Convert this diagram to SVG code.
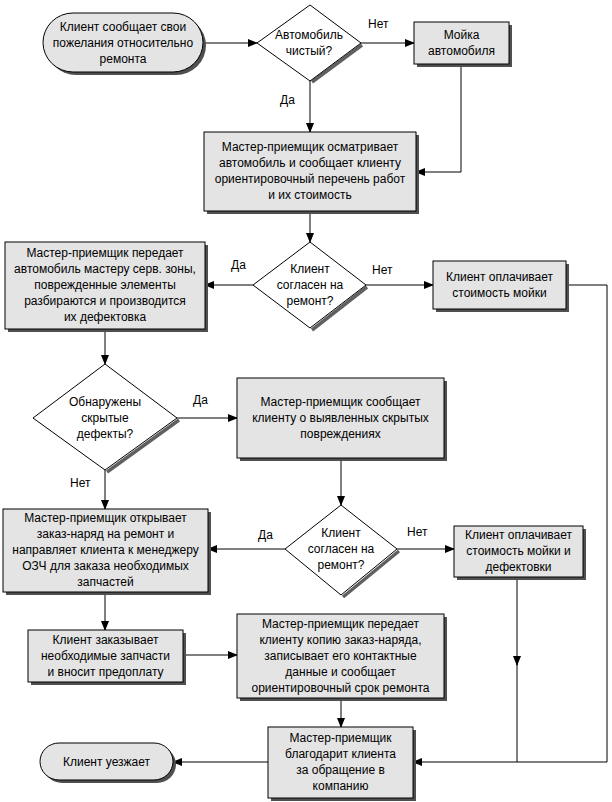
<svg xmlns="http://www.w3.org/2000/svg" width="612" height="802" viewBox="0 0 612 802">
<style>
text{font-family:"Liberation Sans",Arial,sans-serif;font-size:12px;fill:#000}
.t{text-anchor:middle}
.box{fill:#e4e4e4;stroke:#000;stroke-width:1}
.sh{fill:#505050}
.dia{fill:#fff;stroke:#000;stroke-width:1}
.dsh{fill:none;stroke:#606060;stroke-width:3.5}
.c{fill:none;stroke:#000;stroke-width:1}
</style>
<defs>
<marker id="a" markerUnits="userSpaceOnUse" markerWidth="10" markerHeight="10" viewBox="0 0 10 10" refX="9" refY="5" orient="auto">
<path d="M0,1 L10,5 L0,9 Z" fill="#000"/>
</marker>
</defs>
<rect width="612" height="802" fill="#fff"/>
<g id="connectors">
<path class="c" d="M203,43 H257" marker-end="url(#a)"/>
<path class="c" d="M361,43 H414" marker-end="url(#a)"/>
<path class="c" d="M310,81 V132" marker-end="url(#a)"/>
<path class="c" d="M461,64 V172 H416" marker-end="url(#a)"/>
<path class="c" d="M310,211 V242" marker-end="url(#a)"/>
<path class="c" d="M253,285 H205" marker-end="url(#a)"/>
<path class="c" d="M366,285 H433" marker-end="url(#a)"/>
<path class="c" d="M566,285 H607 V762 H413" marker-end="url(#a)"/>
<path class="c" d="M105,329 V364" marker-end="url(#a)"/>
<path class="c" d="M177,418 H237" marker-end="url(#a)"/>
<path class="c" d="M341,458 V505" marker-end="url(#a)"/>
<path class="c" d="M285,549 H208" marker-end="url(#a)"/>
<path class="c" d="M397,549 H454" marker-end="url(#a)"/>
<path class="c" d="M517,577 V665" marker-end="url(#a)"/>
<path class="c" d="M517,664 V762"/>
<path class="c" d="M105,470 V509" marker-end="url(#a)"/>
<path class="c" d="M105,592 V630" marker-end="url(#a)"/>
<path class="c" d="M183,655 H237" marker-end="url(#a)"/>
<path class="c" d="M341,698 V727" marker-end="url(#a)"/>
<path class="c" d="M268,762 H173" marker-end="url(#a)"/>
<text x="368" y="28">Нет</text>
<text x="280" y="104">Да</text>
<text x="231" y="269">Да</text>
<text x="372" y="274">Нет</text>
<text x="193" y="404">Да</text>
<text x="70" y="487">Нет</text>
<text x="258" y="539">Да</text>
<text x="407" y="536">Нет</text>
</g>
<g id="start">
<rect class="sh" x="46" y="16" width="160" height="59" rx="30" ry="29.5"/>
<rect class="box" x="43" y="13" width="160" height="59" rx="30" ry="29.5"/>
<text class="t" x="123" y="31">Клиент сообщает свои<tspan x="123" dy="16">пожелания относительно</tspan><tspan x="123" dy="16">ремонта</tspan></text>
</g>
<g id="d1">
<polyline class="dsh" points="362,45 312,82"/>
<polygon class="dia" points="310,5 361,43 310,81 257,43"/>
<text class="t" x="309" y="39">Автомобиль<tspan x="309" dy="16">чистый?</tspan></text>
</g>
<g id="wash">
<rect class="sh" x="417" y="25" width="95" height="42"/>
<rect class="box" x="414" y="22" width="95" height="42"/>
<text class="t" x="461.5" y="39">Мойка<tspan x="461.5" dy="16">автомобиля</tspan></text>
</g>
<g id="inspect">
<rect class="sh" x="207" y="135" width="212" height="79"/>
<rect class="box" x="204" y="132" width="212" height="79"/>
<text class="t" x="310" y="151">Мастер-приемщик осматривает<tspan x="310" dy="16">автомобиль и сообщает клиенту</tspan><tspan x="310" dy="16">ориентировочный перечень работ</tspan><tspan x="310" dy="16">и их стоимость</tspan></text>
</g>
<g id="d2">
<polyline class="dsh" points="367,287 312,330"/>
<polygon class="dia" points="310,242 366,285 310,328 253,285"/>
<text class="t" x="310" y="273">Клиент<tspan x="310" dy="16">согласен на</tspan><tspan x="310" dy="16">ремонт?</tspan></text>
</g>
<g id="transfer">
<rect class="sh" x="8" y="245" width="200" height="87"/>
<rect class="box" x="5" y="242" width="200" height="87"/>
<text class="t" x="105" y="257">Мастер-приемщик передает<tspan x="105" dy="16">автомобиль мастеру серв. зоны,</tspan><tspan x="105" dy="16">поврежденные элементы</tspan><tspan x="105" dy="16">разбираются и производится</tspan><tspan x="105" dy="16">их дефектовка</tspan></text>
</g>
<g id="pay1">
<rect class="sh" x="436" y="264" width="133" height="48"/>
<rect class="box" x="433" y="261" width="133" height="48"/>
<text class="t" x="499.5" y="281">Клиент оплачивает<tspan x="499.5" dy="16">стоимость мойки</tspan></text>
</g>
<g id="d3">
<polyline class="dsh" points="179,420 107,472"/>
<polygon class="dia" points="105,364 177,418 105,470 33,418"/>
<text class="t" x="105" y="406">Обнаружены<tspan x="105" dy="16">скрытые</tspan><tspan x="105" dy="16">дефекты?</tspan></text>
</g>
<g id="report">
<rect class="sh" x="240" y="381" width="207" height="80"/>
<rect class="box" x="237" y="378" width="207" height="80"/>
<text class="t" x="340.5" y="406">Мастер-приемщик сообщает<tspan x="340.5" dy="16">клиенту о выявленных скрытых</tspan><tspan x="340.5" dy="16">повреждениях</tspan></text>
</g>
<g id="d4">
<polyline class="dsh" points="399,551 343,597"/>
<polygon class="dia" points="341,505 397,549 341,595 285,549"/>
<text class="t" x="341" y="537">Клиент<tspan x="341" dy="16">согласен на</tspan><tspan x="341" dy="16">ремонт?</tspan></text>
</g>
<g id="pay2">
<rect class="sh" x="457" y="529" width="129" height="51"/>
<rect class="box" x="454" y="526" width="129" height="51"/>
<text class="t" x="518.5" y="539">Клиент оплачивает<tspan x="518.5" dy="16">стоимость мойки и</tspan><tspan x="518.5" dy="16">дефектовки</tspan></text>
</g>
<g id="order">
<rect class="sh" x="6" y="512" width="205" height="83"/>
<rect class="box" x="3" y="509" width="205" height="83"/>
<text class="t" x="105.5" y="522">Мастер-приемщик открывает<tspan x="105.5" dy="16">заказ-наряд на ремонт и</tspan><tspan x="105.5" dy="16">направляет клиента к менеджеру</tspan><tspan x="105.5" dy="16">ОЗЧ для заказа необходимых</tspan><tspan x="105.5" dy="16">запчастей</tspan></text>
</g>
<g id="parts">
<rect class="sh" x="31" y="633" width="155" height="52"/>
<rect class="box" x="28" y="630" width="155" height="52"/>
<text class="t" x="105.5" y="644">Клиент заказывает<tspan x="105.5" dy="16">необходимые запчасти</tspan><tspan x="105.5" dy="16">и вносит предоплату</tspan></text>
</g>
<g id="copy">
<rect class="sh" x="240" y="617" width="207" height="84"/>
<rect class="box" x="237" y="614" width="207" height="84"/>
<text class="t" x="340.5" y="628">Мастер-приемщик передает<tspan x="340.5" dy="16">клиенту копию заказ-наряда,</tspan><tspan x="340.5" dy="16">записывает его контактные</tspan><tspan x="340.5" dy="16">данные и сообщает</tspan><tspan x="340.5" dy="16">ориентировочный срок ремонта</tspan></text>
</g>
<g id="thanks">
<rect class="sh" x="271" y="730" width="145" height="71"/>
<rect class="box" x="268" y="727" width="145" height="71"/>
<text class="t" x="340.5" y="742">Мастер-приемщик<tspan x="340.5" dy="16">благодарит клиента</tspan><tspan x="340.5" dy="16">за обращение в</tspan><tspan x="340.5" dy="16">компанию</tspan></text>
</g>
<g id="end">
<rect class="sh" x="43" y="746" width="133" height="37" rx="19" ry="18.5"/>
<rect class="box" x="40" y="743" width="133" height="37" rx="19" ry="18.5"/>
<text class="t" x="106.5" y="766">Клиент уезжает</text>
</g>
</svg>
